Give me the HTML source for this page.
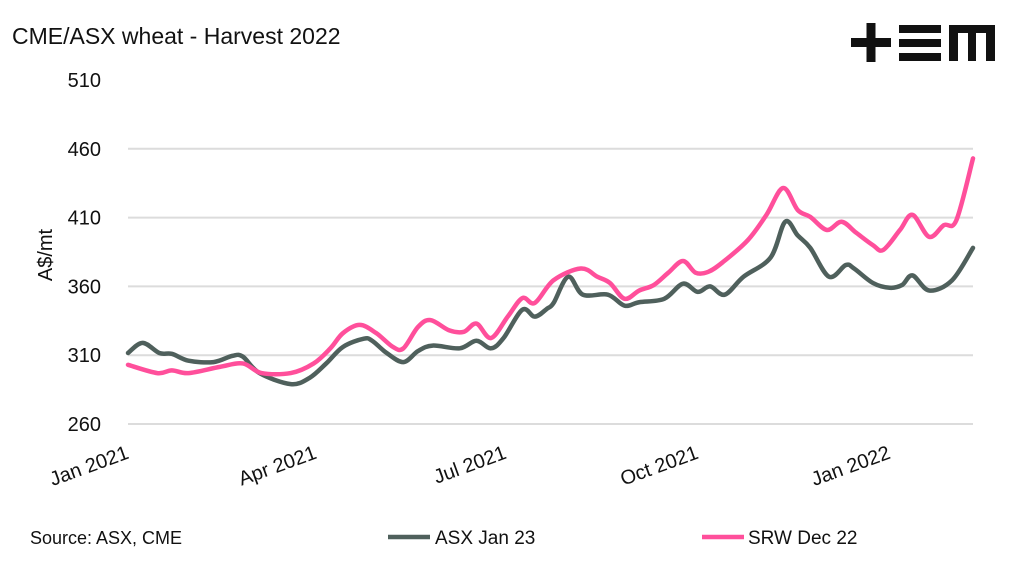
<!DOCTYPE html>
<html><head><meta charset="utf-8"><style>
html,body{margin:0;padding:0;background:#fff;}
svg{display:block;font-family:"Liberation Sans",sans-serif;}
</style></head><body>
<svg id="chart" width="1024" height="570" viewBox="0 0 1024 570">
<text x="12" y="44" font-size="23" fill="#111">CME/ASX wheat - Harvest 2022</text>
<g fill="#111">
<rect x="851" y="38" width="40" height="9"/><rect x="866.5" y="23" width="9" height="39"/>
<rect x="899" y="25" width="42" height="8"/><rect x="899" y="39" width="42" height="8"/><rect x="899" y="53" width="42" height="8"/>
<path d="M949 61 V25 H995 V61 H986 V33 H976 V61 H968 V33 H958 V61 Z"/>
</g>
<g id="grid"></g>
<g id="yticks"></g>
<text transform="translate(52,255) rotate(-90)" text-anchor="middle" font-size="20" fill="#111">A$/mt</text>
<g id="xticks"></g>
<g id="series"></g>
<text x="30" y="544" font-size="18" fill="#111">Source: ASX, CME</text>
<g>
<g><line x1="388" y1="537" x2="430" y2="537" stroke="#4f605c" stroke-width="4.5"/><text x="435" y="544" font-size="19" fill="#111">ASX Jan 23</text></g>
<g><line x1="702" y1="537" x2="744" y2="537" stroke="#ff4f9b" stroke-width="4.5"/><text x="748" y="544" font-size="19" fill="#111">SRW Dec 22</text></g>
</g>
</svg>
<script>
const yTicks=[260,310,360,410,460,510];
const xTickLabels=["Jan 2021","Apr 2021","Jul 2021","Oct 2021","Jan 2022"];
const xTickDays=[0,90,181,273,365];
const asxDays=[0,7,15,21,29,41,50,55,63,78,87,95,103,113,117,124,132,139,146,159,167,174,180,189,195,201,204,211,218,230,238,245,257,266,273,279,286,295,308,315,321,327,336,344,348,357,365,371,376,384,395,405];
const asxValues=[311.6,319,311.6,311,306,305,309.5,309,297,289,293.5,304,316,322,320.5,311.6,305,313,317,315,320.5,315,322.5,343,338,344,348,367,354,354,346,348.5,351,362,356,360,354,367,381,407,397,388,367,375.5,373,362.5,359,361,368,357,364.5,388];
const srwDays=[0,14,21,29,44,55,64,78,89,97,103,111,119,127,132,139,145,154,161,167,174,182,189,195,204,217,225,231,238,245,252,259,266,272,278,285,297,306,314,321,327,335,342,349,357,362,370,376,384,391,397,405];
const srwValues=[303,297,299,297,301.5,304,297,297,304,315,326,332,326,316,315,330.5,335.5,328,327,333,322.5,338,351.5,348,364.5,373,367,362.5,351,357,361,370,378.5,370,370.5,377.5,393.5,412,431.5,415.5,410.5,401,407,399,390,386.5,401,412,396,404.5,408,453];
const X0=128,X1=973,D0=0,D1=405,Y0=424,Y1=80,V0=260,V1=510;
const xs=d=>X0+(d-D0)/(D1-D0)*(X1-X0);
const ys=v=>Y0-(v-V0)/(V1-V0)*(Y0-Y1);
const NS="http://www.w3.org/2000/svg";
const mk=(t,a,p)=>{const e=document.createElementNS(NS,t);for(const k in a)e.setAttribute(k,a[k]);p.appendChild(e);return e;};
const grid=document.getElementById('grid'),yt=document.getElementById('yticks'),xt=document.getElementById('xticks'),ser=document.getElementById('series');
yTicks.forEach(v=>{
 if(v<510){const l=mk('line',{x1:X0,x2:X1,y1:ys(v),y2:ys(v),stroke:'#dcdcdc','stroke-width':2},grid);
 
 }
 const t=mk('text',{x:101,y:ys(v)+7,'text-anchor':'end','font-size':20,fill:'#111'},yt);t.textContent=v;
 
 
});
xTickLabels.forEach((s,i)=>{
 const x=xs(xTickDays[i])+2;
 const t=mk('text',{transform:`translate(${x},458) rotate(-20)`,'text-anchor':'end','font-size':20,fill:'#111'},xt);t.textContent=s;
 
 
});
function path(days,vals){
 const p=days.map((d,i)=>[xs(d),ys(vals[i])]);
 let s=`M${p[0][0]},${p[0][1]}`;
 for(let i=0;i<p.length-1;i++){
  const a=p[i-1]||p[i],b=p[i],c=p[i+1],d=p[i+2]||c,k=1/6;
  s+=`C${b[0]+(c[0]-a[0])*k},${b[1]+(c[1]-a[1])*k} ${c[0]-(d[0]-b[0])*k},${c[1]-(d[1]-b[1])*k} ${c[0]},${c[1]}`;
 }
 return s;
}
const pa=mk('path',{d:path(asxDays,asxValues),fill:'none',stroke:'#4f605c','stroke-width':4.5,'stroke-linejoin':'round','stroke-linecap':'round'},ser);


const ps=mk('path',{d:path(srwDays,srwValues),fill:'none',stroke:'#ff4f9b','stroke-width':4.5,'stroke-linejoin':'round','stroke-linecap':'round'},ser);


</script>
</body></html>
